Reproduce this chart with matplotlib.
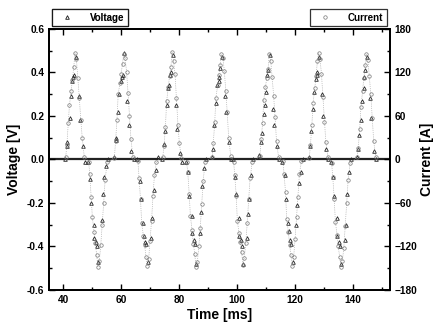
import matplotlib
matplotlib.use('Agg')
import matplotlib.pyplot as plt
from matplotlib.ticker import MultipleLocator

plt.rcParams['font.family'] = ['Liberation Sans', 'DejaVu Sans']
plt.rcParams['font.weight'] = 'bold'

# voltage samples (triangles), pulses in time order: P1 N1 P2 N2 ... P7
volt_t = [40.7, 41.2, 41.5, 42.3, 42.6, 43.1, 43.4, 43.7, 44.3, 45.5, 45.9, 46.8, 47.6,
          48.6, 49.4, 49.7, 50.5, 50.8, 51.3, 51.6, 52.2, 53.4, 53.7, 54.2, 54.9, 55.6,
          57.5, 58.1, 58.4, 59.0, 59.4, 59.9, 60.2, 60.5, 61.1, 62.1, 62.6, 63.5, 64.3,
          65.6, 66.4, 66.7, 67.5, 67.8, 68.3, 68.6, 69.2, 70.4, 70.7, 71.2, 71.9, 72.6,
          74.2, 74.8, 75.1, 75.8, 76.1, 76.6, 76.9, 77.2, 77.8, 78.9, 79.3, 80.2, 81.0,
          82.4, 83.2, 83.5, 84.3, 84.6, 85.1, 85.4, 86.0, 87.2, 87.5, 88.0, 88.7, 89.4,
          91.2, 91.8, 92.1, 92.8, 93.1, 93.6, 93.9, 94.2, 94.8, 95.9, 96.3, 97.2, 98.0,
          98.6, 99.4, 99.7, 100.5, 100.8, 101.3, 101.6, 102.2, 103.4, 103.7, 104.2, 104.9, 105.6,
          107.7, 108.3, 108.6, 109.3, 109.6, 110.1, 110.4, 110.7, 111.3, 112.4, 112.8, 113.7, 114.5,
          115.6, 116.4, 116.7, 117.5, 117.8, 118.3, 118.6, 119.2, 120.4, 120.7, 121.2, 121.9, 122.6,
          124.7, 125.3, 125.6, 126.3, 126.6, 127.1, 127.4, 127.7, 128.3, 129.4, 129.8, 130.7, 131.5,
          132.4, 133.2, 133.5, 134.3, 134.6, 135.1, 135.4, 136.0, 137.2, 137.5, 138.0, 138.7, 139.4,
          141.2, 141.8, 142.1, 142.8, 143.1, 143.6, 143.9, 144.2, 144.8, 145.9, 146.3, 147.2, 148.0]
volt_v = [0.00, 0.06, 0.08, 0.19, 0.29, 0.36, 0.38, 0.39, 0.47, 0.29, 0.18, 0.06, -0.01,
          -0.01, -0.09, -0.20, -0.30, -0.36, -0.38, -0.40, -0.47, -0.28, -0.16, -0.08, -0.03, 0.00,
          0.01, 0.09, 0.10, 0.22, 0.30, 0.36, 0.38, 0.39, 0.49, 0.27, 0.16, 0.04, 0.00,
          0.00, -0.10, -0.18, -0.29, -0.35, -0.38, -0.39, -0.47, -0.36, -0.27, -0.14, -0.05, 0.01,
          0.00, 0.07, 0.13, 0.25, 0.33, 0.34, 0.39, 0.40, 0.48, 0.25, 0.14, 0.03, -0.01,
          -0.01, -0.06, -0.17, -0.26, -0.34, -0.37, -0.39, -0.48, -0.34, -0.24, -0.12, -0.04, 0.00,
          0.01, 0.05, 0.16, 0.26, 0.34, 0.36, 0.38, 0.42, 0.47, 0.29, 0.22, 0.08, 0.00,
          0.00, -0.08, -0.16, -0.27, -0.35, -0.37, -0.40, -0.48, -0.36, -0.25, -0.18, -0.07, 0.00,
          0.02, 0.08, 0.12, 0.21, 0.25, 0.31, 0.39, 0.41, 0.48, 0.23, 0.16, 0.06, 0.00,
          -0.01, -0.07, -0.18, -0.29, -0.33, -0.37, -0.39, -0.47, -0.30, -0.21, -0.11, -0.06, 0.00,
          0.01, 0.06, 0.13, 0.23, 0.31, 0.37, 0.39, 0.40, 0.47, 0.30, 0.20, 0.05, 0.00,
          -0.01, -0.08, -0.17, -0.27, -0.35, -0.38, -0.40, -0.48, -0.37, -0.30, -0.16, -0.06, 0.00,
          0.01, 0.05, 0.11, 0.18, 0.27, 0.33, 0.38, 0.41, 0.47, 0.28, 0.19, 0.04, 0.00]

# current samples (circles)
curr_t = [40.9, 41.3, 41.8, 42.2, 42.8, 43.2, 43.7, 44.1, 44.6, 45.1, 45.6, 46.1, 46.6, 47.3,
          48.8, 49.2, 49.7, 50.1, 50.7, 51.1, 51.6, 52.0, 52.5, 53.0, 53.5, 54.0, 54.5, 55.2,
          57.7, 58.1, 58.6, 59.0, 59.6, 60.0, 60.5, 60.9, 61.4, 61.9, 62.4, 62.9, 63.4, 64.1,
          65.8, 66.2, 66.7, 67.1, 67.7, 68.1, 68.6, 69.0, 69.5, 70.0, 70.5, 71.0, 71.5, 72.2,
          74.4, 74.8, 75.3, 75.7, 76.3, 76.7, 77.2, 77.6, 78.1, 78.6, 79.1, 79.6, 80.1, 80.8,
          82.6, 83.0, 83.5, 83.9, 84.5, 84.9, 85.4, 85.8, 86.3, 86.8, 87.3, 87.8, 88.3, 89.0,
          91.4, 91.8, 92.3, 92.7, 93.3, 93.7, 94.2, 94.6, 95.1, 95.6, 96.1, 96.6, 97.1, 97.8,
          98.8, 99.2, 99.7, 100.1, 100.7, 101.1, 101.6, 102.0, 102.5, 103.0, 103.5, 104.0, 104.5, 105.2,
          107.9, 108.3, 108.8, 109.2, 109.8, 110.2, 110.7, 111.1, 111.6, 112.1, 112.6, 113.1, 113.6, 114.3,
          115.8, 116.2, 116.7, 117.1, 117.7, 118.1, 118.6, 119.0, 119.5, 120.0, 120.5, 121.0, 121.5, 122.2,
          124.9, 125.3, 125.8, 126.2, 126.8, 127.2, 127.7, 128.1, 128.6, 129.1, 129.6, 130.1, 130.6, 131.3,
          132.6, 133.0, 133.5, 133.9, 134.5, 134.9, 135.4, 135.8, 136.3, 136.8, 137.3, 137.8, 138.3, 139.0,
          141.4, 141.8, 142.3, 142.7, 143.3, 143.7, 144.2, 144.6, 145.1, 145.6, 146.1, 146.6, 147.1, 147.8]
curr_a = [3, 20, 50, 75, 95, 110, 128, 147, 138, 112, 85, 55, 30, 4,
          -3, -20, -52, -80, -100, -115, -132, -148, -140, -118, -90, -60, -28, -4,
          2, 25, 55, 90, 105, 118, 132, 146, 140, 120, 92, 60, 28, 3,
          -2, -25, -55, -88, -105, -118, -135, -147, -138, -112, -85, -50, -22, -3,
          4, 18, 45, 80, 100, 115, 128, 148, 135, 118, 84, 48, 22, 2,
          -4, -18, -48, -78, -98, -116, -130, -148, -142, -120, -95, -62, -30, -3,
          3, 22, 52, 85, 102, 116, 130, 145, 140, 122, 95, 65, 30, 5,
          -3, -22, -50, -85, -102, -114, -128, -146, -136, -115, -88, -55, -26, -4,
          5, 28, 50, 82, 100, 112, 125, 146, 136, 113, 88, 58, 25, 3,
          -2, -20, -45, -82, -100, -118, -132, -147, -135, -110, -80, -52, -20, -2,
          2, 20, 48, 78, 98, 115, 135, 147, 138, 118, 86, 52, 24, 4,
          -5, -24, -55, -86, -104, -120, -135, -148, -140, -122, -92, -60, -28, -5,
          3, 16, 42, 72, 95, 112, 130, 145, 137, 115, 90, 57, 26, 3]

fig = plt.figure(figsize=(4.35, 3.28), dpi=100)
ax = fig.add_axes([0.113, 0.116, 0.784, 0.796])
ax2 = ax.twinx()

ax.axhline(0, color='#222222', lw=1.6, zorder=1)
lv, = ax.plot(volt_t, volt_v, ls='none', marker='^', ms=2.6, mfc='none',
              mec='#222222', mew=0.6, label='Voltage')
ax2.plot(curr_t, curr_a, ls=':', lw=0.5, color='#999999')
lc, = ax2.plot(curr_t, curr_a, ls='none', marker='o', ms=2.5, mfc='none',
               mec='#777777', mew=0.5, label='Current')

ax.set_xlim(35.2, 152.8)
ax.set_ylim(-0.6, 0.6)
ax2.set_ylim(-180, 180)

ax.xaxis.set_major_locator(MultipleLocator(20))
ax.xaxis.set_minor_locator(MultipleLocator(10))
ax.yaxis.set_major_locator(MultipleLocator(0.2))
ax.yaxis.set_minor_locator(MultipleLocator(0.1))
ax2.yaxis.set_major_locator(MultipleLocator(60))
ax2.yaxis.set_minor_locator(MultipleLocator(30))
ax.yaxis.set_major_formatter(plt.FormatStrFormatter('%.1f'))

ax.tick_params(which='both', direction='in', top=True, labelsize=7.3, width=1.0)
ax.tick_params(which='major', length=4)
ax.tick_params(which='minor', length=2)
ax2.tick_params(which='both', direction='in', labelsize=7.3, width=1.0, pad=3)
ax2.tick_params(which='major', length=4)
ax2.tick_params(which='minor', length=2)
for a in (ax, ax2):
    for s in a.spines.values():
        s.set_linewidth(1.3)
    for lab in a.get_xticklabels() + a.get_yticklabels():
        lab.set_fontweight('bold')

ax.set_xlabel('Time [ms]', fontsize=10, fontweight='bold', labelpad=2)
ax.set_ylabel('Voltage [V]', fontsize=10, fontweight='bold', labelpad=4)
ax2.set_ylabel('Current [A]', fontsize=10, fontweight='bold', rotation=90, labelpad=2)

leg1 = ax.legend(handles=[lv], loc='lower left', bbox_to_anchor=(0.007, 1.01),
                 fontsize=7, frameon=True, fancybox=False, edgecolor='black',
                 borderpad=0.35, handlelength=2.4, handletextpad=1.2, borderaxespad=0)
leg1.get_frame().set_linewidth(0.9)
for t in leg1.get_texts():
    t.set_fontweight('bold')
ax.add_artist(leg1)
leg2 = ax2.legend(handles=[lc], loc='lower right', bbox_to_anchor=(0.99, 1.01),
                  fontsize=7, frameon=True, fancybox=False, edgecolor='black',
                  borderpad=0.35, handlelength=2.4, handletextpad=1.2, borderaxespad=0)
leg2.get_frame().set_linewidth(0.9)
for t in leg2.get_texts():
    t.set_fontweight('bold')

fig.savefig('out.png', dpi=100)
